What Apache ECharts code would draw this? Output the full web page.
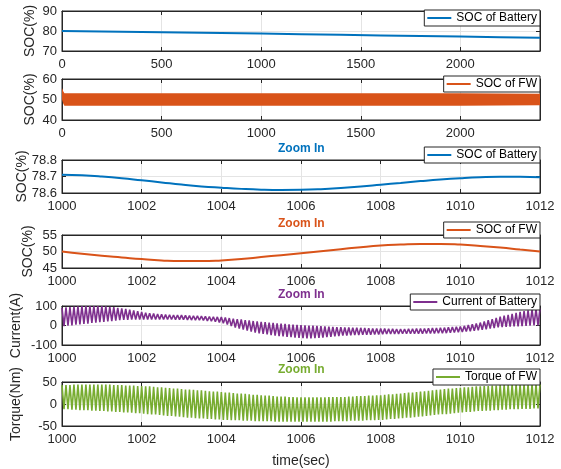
<!DOCTYPE html>
<html lang="en">
<head>
<meta charset="UTF-8">
<title>Battery / flywheel SOC, current and torque</title>
<script src="https://cdn.jsdelivr.net/npm/echarts@6.0.0/dist/echarts.min.js"></script>
<style>html,body{margin:0;padding:0;background:#fff;}</style>
</head>
<body>
<div id="chart1" style="width:561px;height:469px;"></div>
<script>
// ---- data ----
// full run, 0..2400 s
var batTime = [0, 200, 400, 600, 800, 1000, 1200, 1400, 1600, 1800, 2000, 2200, 2400];
var batSoc = [80.0, 79.75, 79.5, 79.2, 78.95, 78.7, 78.4, 78.1, 77.8, 77.5, 77.2, 76.9, 76.6];

// flywheel SOC oscillates fast -> drawn as its envelope band
var fwTime = [0, 3, 6, 12, 100, 500, 1000, 1500, 2000, 2400];
var fwHigh = [55.5, 55, 54, 53, 53, 53, 53, 53, 53, 52.8];
var fwLow = [50, 49, 48, 47, 47, 47, 47, 47, 47, 47.2];

// zoom window 1000..1012 s, every 0.5 s
var zoomTime = [1000, 1000.5, 1001, 1001.5, 1002, 1002.5, 1003, 1003.5, 1004, 1004.5, 1005, 1005.5, 1006,
  1006.5, 1007, 1007.5, 1008, 1008.5, 1009, 1009.5, 1010, 1010.5, 1011, 1011.5, 1012];
var zoomBatSoc = [78.710, 78.707, 78.700, 78.690, 78.677, 78.664, 78.651, 78.640, 78.632, 78.625, 78.620, 78.618, 78.619,
  78.623, 78.630, 78.639, 78.650, 78.661, 78.672, 78.682, 78.690, 78.696, 78.699, 78.699, 78.695];
var zoomFwSoc = [50.0, 49.3, 48.7, 48.2, 47.7, 47.3, 47.1, 47.1, 47.3, 47.7, 48.3, 48.9, 49.5,
  50.1, 50.7, 51.3, 51.8, 52.1, 52.3, 52.3, 52.1, 51.7, 51.2, 50.6, 50.0];

// battery current and flywheel torque: peak every 0.1 s from 1000.0, trough every 0.1 s from 1000.05
var sampleStart = 1000;
var halfStep = 0.05;
var curHigh = [
  90, 93, 95, 97, 98, 99, 99, 100, 100, 100,
  99, 98, 96, 94, 91, 88, 85, 81, 77, 73,
  69, 66, 63, 61, 59, 57, 56, 55, 54, 54,
  53, 52, 51, 50, 49, 48, 47, 46, 45, 44,
  43, 41, 38, 35, 33, 31, 28, 26, 23, 21,
  19, 17, 15, 13, 11, 9, 8, 6, 5, 3,
  2, 1, 0, -1, -2, -3, -4, -6, -7, -8,
  -9, -10, -10, -11, -11, -12, -13, -14, -15, -15,
  -16, -16, -17, -17, -18, -18, -18, -17, -17, -16,
  -16, -15, -14, -13, -13, -12, -11, -9, -8, -6,
  -5, -2, 2, 6, 10, 15, 21, 27, 33, 39,
  45, 50, 55, 60, 65, 70, 74, 78, 82, 85,
  88];
var curLow = [
  -3, -1, 1, 4, 6, 8, 10, 13, 15, 17,
  19, 21, 23, 25, 27, 29, 29, 30, 30, 31,
  31, 31, 31, 31, 31, 31, 31, 31, 30, 30,
  30, 29, 28, 28, 27, 26, 24, 22, 19, 16,
  12, 5, -3, -10, -16, -21, -26, -31, -36, -40,
  -43, -46, -49, -52, -54, -56, -58, -60, -62, -64,
  -65, -66, -66, -65, -64, -62, -60, -58, -56, -54,
  -52, -51, -50, -49, -49, -48, -47, -47, -46, -46,
  -45, -44, -44, -43, -43, -42, -42, -42, -42, -42,
  -42, -41, -41, -41, -40, -40, -39, -37, -36, -34,
  -33, -31, -29, -27, -25, -22, -19, -16, -13, -10,
  -8, -7, -6, -5, -4, -3, -2, -1, 0, 0];
var trqHigh = [
  43, 43, 43, 44, 44, 44, 44, 44, 44, 44,
  44, 44, 44, 43, 43, 43, 42, 42, 42, 41,
  41, 40, 40, 39, 38, 38, 37, 36, 35, 35,
  34, 33, 33, 32, 31, 31, 30, 29, 28, 28,
  27, 26, 26, 25, 24, 24, 23, 22, 21, 21,
  20, 19, 19, 18, 17, 17, 17, 16, 16, 15,
  15, 15, 15, 15, 15, 15, 15, 16, 16, 16,
  16, 16, 17, 17, 18, 18, 18, 19, 19, 20,
  20, 21, 22, 22, 23, 24, 25, 26, 26, 27,
  28, 29, 30, 31, 32, 33, 34, 35, 35, 36,
  37, 38, 38, 39, 40, 40, 41, 41, 42, 42,
  43, 43, 43, 44, 44, 44, 44, 44, 45, 45,
  45];
var trqLow = [
  -12, -12, -13, -13, -14, -14, -14, -15, -15, -16,
  -16, -17, -17, -18, -18, -19, -19, -20, -21, -21,
  -22, -23, -24, -24, -25, -26, -27, -27, -28, -29,
  -30, -31, -31, -32, -33, -33, -34, -34, -35, -35,
  -36, -36, -37, -37, -37, -38, -38, -38, -39, -39,
  -39, -39, -39, -40, -40, -40, -40, -40, -40, -40,
  -40, -40, -40, -40, -40, -40, -40, -40, -39, -39,
  -39, -39, -38, -38, -38, -38, -37, -37, -37, -36,
  -36, -35, -34, -34, -33, -32, -31, -31, -30, -29,
  -28, -27, -26, -25, -24, -23, -23, -22, -21, -20,
  -19, -18, -18, -17, -16, -16, -15, -15, -14, -14,
  -13, -13, -12, -12, -12, -11, -11, -11, -10, -10];

// ---- helpers ----
var AX = '#262626';
var GRIDC = '#e4e4e4';
var FONT = 'Liberation Sans';
var BLUE = '#0072BD', ORANGE = '#D95319', PURPLE = '#7E2F8E', GREEN = '#77AC30';

function pairs(xs, ys) {
  return xs.map(function (x, i) { return [x, ys[i]]; });
}

// alternate peaks and troughs on the sample grid
function zigzag(hi, lo) {
  var out = [];
  for (var i = 0; i < hi.length; i++) {
    out.push([+(sampleStart + 2 * i * halfStep).toFixed(2), hi[i]]);
    if (i < lo.length) out.push([+(sampleStart + (2 * i + 1) * halfStep).toFixed(2), lo[i]]);
  }
  return out;
}

var grids = [
  { top: 11, height: 40 },
  { top: 79, height: 41 },
  { top: 160, height: 33 },
  { top: 235, height: 33 },
  { top: 306, height: 39 },
  { top: 382, height: 45 }
];

var xCfg = [
  { min: 0, max: 2400, interval: 500 },
  { min: 0, max: 2400, interval: 500 },
  { min: 1000, max: 1012, interval: 2 },
  { min: 1000, max: 1012, interval: 2 },
  { min: 1000, max: 1012, interval: 2 },
  { min: 1000, max: 1012, interval: 2 }
];
var yCfg = [
  { min: 70, max: 90, interval: 10, name: 'SOC(%)', gap: 25 },
  { min: 40, max: 60, interval: 10, name: 'SOC(%)', gap: 25 },
  { min: 78.6, max: 78.8, interval: 0.1, name: 'SOC(%)', gap: 33, dec: 1 },
  { min: 45, max: 55, interval: 5, name: 'SOC(%)', gap: 27 },
  { min: -100, max: 100, interval: 100, name: 'Current(A)', gap: 39 },
  { min: -50, max: 50, interval: 50, name: 'Torque(Nm)', gap: 39 }
];

var xAxes = [], yAxes = [];
grids.forEach(function (g, i) {
  var xc = xCfg[i], yc = yCfg[i];
  xAxes.push({
    gridIndex: i, type: 'value', min: xc.min, max: xc.max, interval: xc.interval,
    axisLine: { show: true, onZero: false, lineStyle: { color: AX, width: 1 } },
    axisTick: { inside: true, length: 4, lineStyle: { color: AX } },
    splitLine: { show: true, lineStyle: { color: GRIDC } },
    axisLabel: {
      color: AX, fontSize: 13, fontFamily: FONT, margin: 7, showMaxLabel: xc.max % xc.interval === 0,
      formatter: function (v) { return String(v); }
    },
    name: i === 5 ? 'time(sec)' : '', nameLocation: 'middle', nameGap: 28, nameMoveOverlap: false,
    nameTextStyle: { color: AX, fontSize: 14, fontFamily: FONT }
  });
  xAxes.push({
    gridIndex: i, type: 'value', position: 'top', min: xc.min, max: xc.max, interval: xc.interval,
    axisLine: { show: true, onZero: false, lineStyle: { color: AX } },
    axisTick: { inside: true, length: 4, lineStyle: { color: AX } },
    axisLabel: { show: false }, splitLine: { show: false }
  });
  yAxes.push({
    gridIndex: i, type: 'value', min: yc.min, max: yc.max, interval: yc.interval,
    axisLine: { show: true, onZero: false, lineStyle: { color: AX } },
    axisTick: { inside: true, length: 4, lineStyle: { color: AX } },
    splitLine: { show: true, lineStyle: { color: GRIDC } },
    axisLabel: {
      color: AX, fontSize: 13, fontFamily: FONT, margin: 5,
      formatter: function (v) { return yc.dec ? v.toFixed(yc.dec) : String(v); }
    },
    name: yc.name, nameLocation: 'middle', nameGap: yc.gap, nameMoveOverlap: false,
    nameTextStyle: { color: AX, fontSize: 14, fontFamily: FONT }
  });
  yAxes.push({
    gridIndex: i, type: 'value', position: 'right', min: yc.min, max: yc.max, interval: yc.interval,
    axisLine: { show: true, onZero: false, lineStyle: { color: AX } },
    axisTick: { inside: true, length: 4, lineStyle: { color: AX } },
    axisLabel: { show: false }, splitLine: { show: false }
  });
});

function legendAt(top, name) {
  return {
    top: top, right: 21, data: [name], icon: 'rect', itemWidth: 24, itemHeight: 2,
    padding: [2, 3, 2, 3], borderColor: AX, borderWidth: 1, backgroundColor: '#fff',
    selectedMode: false,
    textStyle: { fontSize: 12, fontFamily: FONT, color: '#000' }
  };
}

function zoomTitle(top, color) {
  return {
    text: 'Zoom In', left: 278, top: top, padding: 0,
    textStyle: { fontSize: 12, fontWeight: 'bold', fontFamily: FONT, color: color }
  };
}

var myChart = echarts.init(document.getElementById('chart1'), null, { renderer: 'canvas' });

var option = {
  backgroundColor: '#fff',
  animation: false,
  grid: grids.map(function (g) {
    return { left: 62, right: 21, top: g.top, height: g.height, show: true, borderColor: AX, borderWidth: 1, backgroundColor: '#fff' };
  }),
  xAxis: xAxes,
  yAxis: yAxes,
  title: [
    zoomTitle(143, BLUE),
    zoomTitle(218, ORANGE),
    zoomTitle(289, PURPLE),
    zoomTitle(364, GREEN)
  ],
  legend: [
    legendAt(10, 'SOC of Battery'),
    legendAt(76, 'SOC of FW'),
    legendAt(147, 'SOC of Battery'),
    legendAt(222, 'SOC of FW'),
    legendAt(294, 'Current of Battery'),
    legendAt(369, 'Torque of FW')
  ],
  series: [
    {
      name: 'SOC of Battery', type: 'line', xAxisIndex: 0, yAxisIndex: 0, color: BLUE,
      data: pairs(batTime, batSoc), showSymbol: false, lineStyle: { width: 2 }
    },
    {
      name: 'SOC of FW', type: 'custom', xAxisIndex: 2, yAxisIndex: 2, color: ORANGE, clip: true,
      data: fwTime.map(function (t, i) { return [t, fwLow[i], fwHigh[i]]; }),
      encode: { x: 0, y: [1, 2] },
      renderItem: function (params, api) {
        if (params.dataIndex !== 0) return null;
        var pts = [];
        for (var i = 0; i < fwTime.length; i++) pts.push(api.coord([fwTime[i], fwHigh[i]]));
        for (var j = fwTime.length - 1; j >= 0; j--) pts.push(api.coord([fwTime[j], fwLow[j]]));
        return { type: 'polygon', shape: { points: pts }, style: { fill: ORANGE } };
      }
    },
    {
      name: 'SOC of Battery', type: 'line', xAxisIndex: 4, yAxisIndex: 4, color: BLUE,
      data: pairs(zoomTime, zoomBatSoc), showSymbol: false, smooth: true, lineStyle: { width: 2 }
    },
    {
      name: 'SOC of FW', type: 'line', xAxisIndex: 6, yAxisIndex: 6, color: ORANGE,
      data: pairs(zoomTime, zoomFwSoc), showSymbol: false, smooth: true, lineStyle: { width: 2 }
    },
    {
      name: 'Current of Battery', type: 'line', xAxisIndex: 8, yAxisIndex: 8, color: PURPLE,
      data: zigzag(curHigh, curLow), showSymbol: false, sampling: null, lineStyle: { width: 1.6 }
    },
    {
      name: 'Torque of FW', type: 'line', xAxisIndex: 10, yAxisIndex: 10, color: GREEN,
      data: zigzag(trqHigh, trqLow), showSymbol: false, sampling: null, lineStyle: { width: 1.6 }
    }
  ]
};

myChart.setOption(option);
</script>
</body>
</html>
